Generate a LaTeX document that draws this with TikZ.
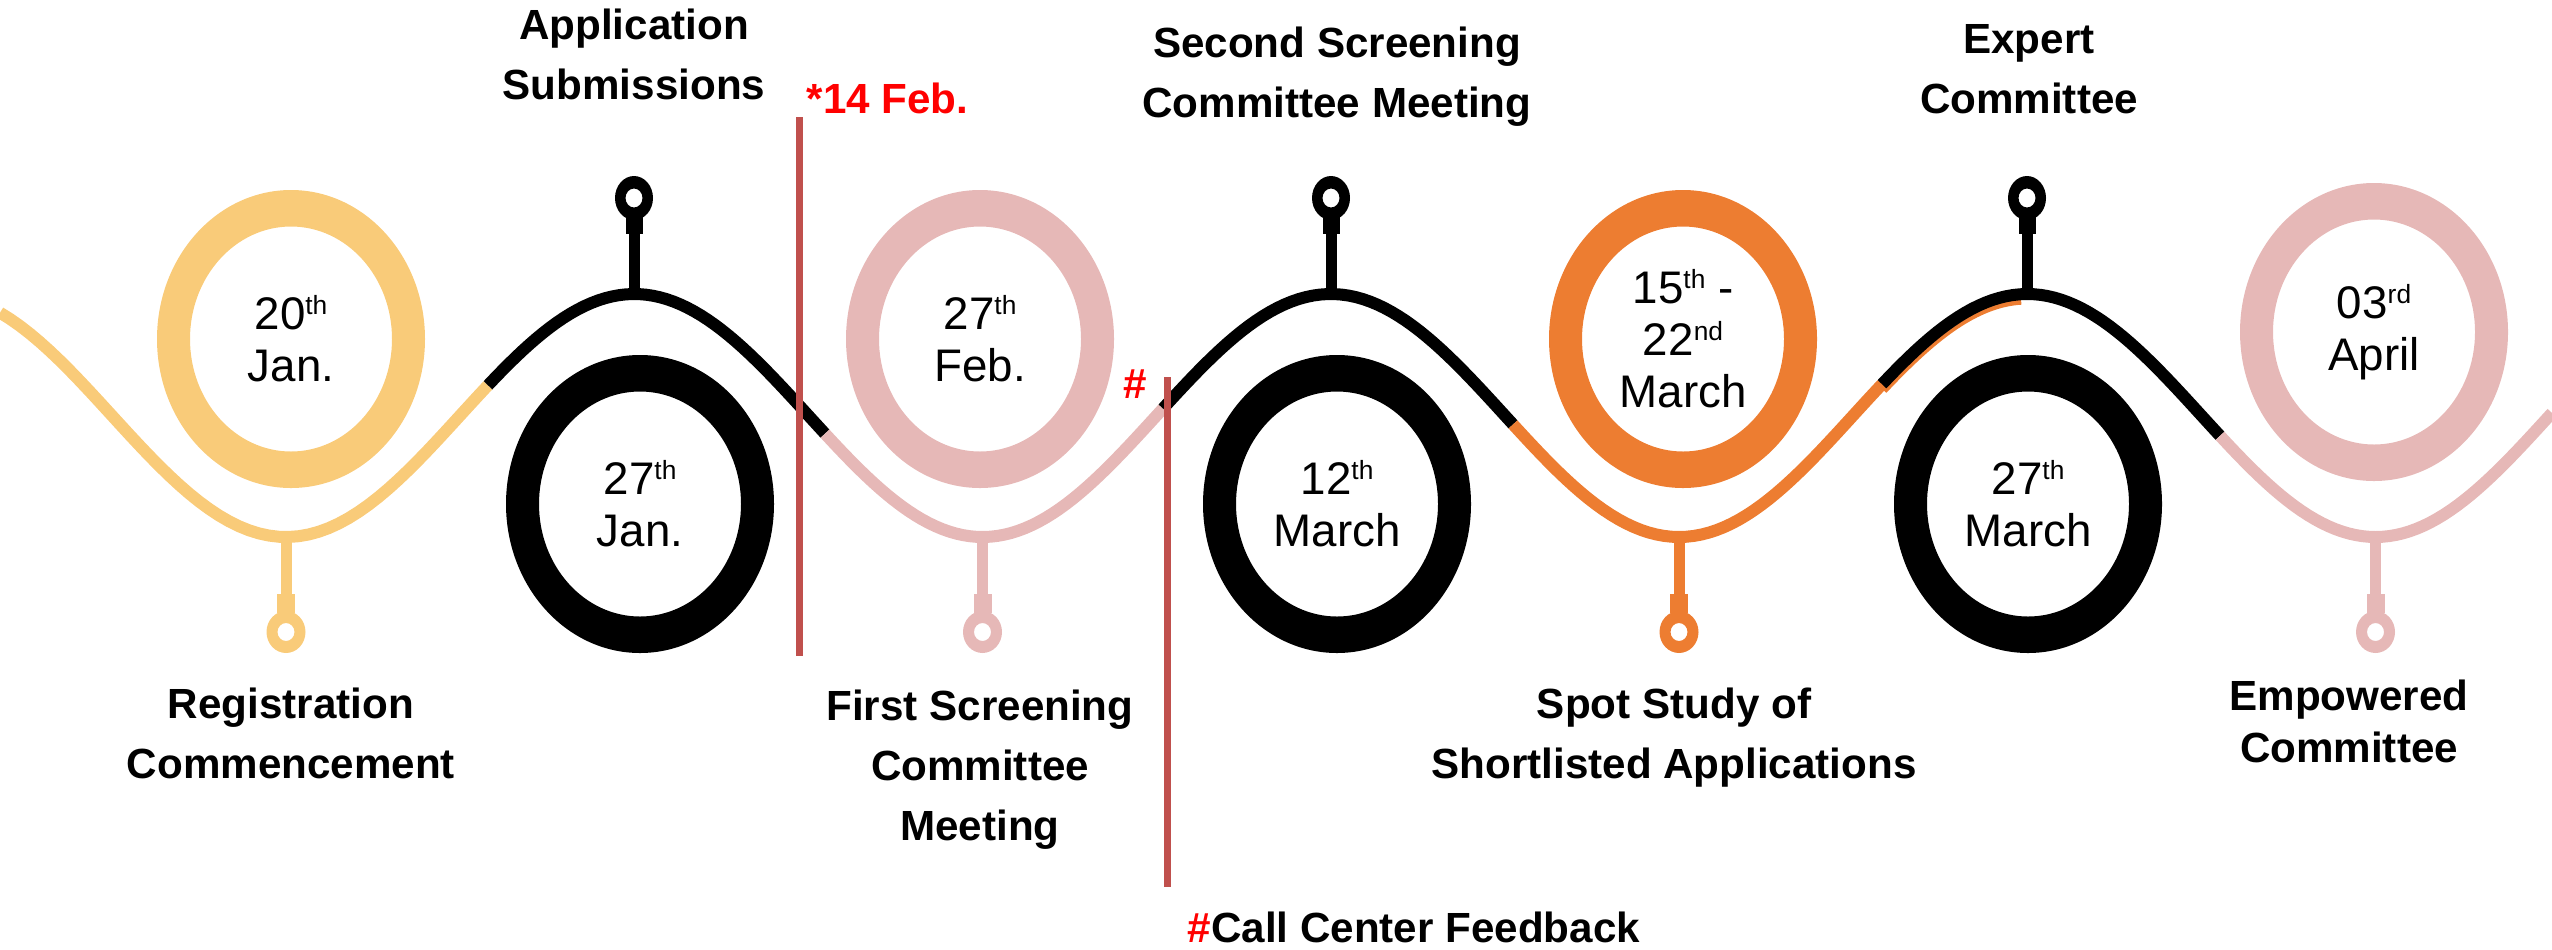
\documentclass[tikz,border=0pt]{standalone}
\usepackage{fontspec}
\setmainfont{Liberation Sans}
\usepackage{xcolor}
\usetikzlibrary{positioning}
\definecolor{tlyellow}{RGB}{249,203,121}
\definecolor{tlpink}{RGB}{230,184,183}
\definecolor{tlorange}{RGB}{237,125,49}
\definecolor{tlred}{RGB}{192,80,77}
\definecolor{tlhash}{RGB}{255,0,0}
\newcommand{\sups}[1]{\raisebox{4.3pt}{\fontsize{7.5pt}{7.5pt}\selectfont #1}}

\begin{document}
\begin{tikzpicture}[
  x=1cm, y=-1cm,
  declare function={wy(\t)=4.155+1.215*cos(360*(\t-2.86)/6.965);},
  wave/.style={line width=0.12cm},
  datetext/.style={align=center, font=\fontsize{13pt}{14.8pt}\selectfont, inner sep=0pt},
  stagetext/.style={align=center, font=\bfseries\fontsize{12pt}{17pt}\selectfont, inner sep=0pt, anchor=base},
  rednote/.style={font=\bfseries\fontsize{12pt}{17pt}\selectfont, inner sep=0pt, anchor=base west},
  cutline/.style={line width=0.07cm, tlred}
]
\useasboundingbox (0,0) rectangle (25.52,9.49);

% wavy timeline (one piece per stage)
\draw[wave, tlorange, yshift=-0.045cm] plot[domain=18.82:20.21, samples=40] (\x,{wy(\x)});
\foreach \a/\b/\col in {0/4.88/tlyellow, 4.88/8.25/black, 8.25/11.63/tlpink, 11.63/15.13/black,
                        15.13/18.82/tlorange, 18.82/22.20/black, 22.20/25.52/tlpink}
  \draw[wave, \col] plot[domain=\a:\b, samples=50] (\x,{wy(\x)});

% pendants on the peaks (top) and troughs (bottom)
\foreach \px in {6.34,13.31,20.27} {
  \fill (\px-0.055,2.33) rectangle (\px+0.055,2.94);
  \fill (\px-0.085,2.13) rectangle (\px+0.085,2.34);
  \fill[even odd rule] (\px,1.98) ellipse (0.19 and 0.22) (\px,1.98) ellipse (0.085 and 0.095);
}
\foreach \px/\col in {2.86/tlyellow, 9.825/tlpink, 16.79/tlorange, 23.755/tlpink} {
  \fill[\col] (\px-0.055,5.37) rectangle (\px+0.055,5.95);
  \fill[\col] (\px-0.09,5.94) rectangle (\px+0.09,6.13);
  \fill[\col, even odd rule] (\px,6.32) ellipse (0.195 and 0.21) (\px,6.32) ellipse (0.085 and 0.09);
}

% date rings
\foreach \n/\cx/\cy/\col/\txt in {
    d1/2.91/3.39/tlyellow/{20\sups{th}\\Jan.},
    d2/6.40/5.04/black/{27\sups{th}\\Jan.},
    d3/9.80/3.39/tlpink/{27\sups{th}\\Feb.},
    d4/13.37/5.04/black/{12\sups{th}\\March},
    d5/16.83/3.39/tlorange/{15\sups{th} -\\22\sups{nd}\\March},
    d6/20.28/5.04/black/{27\sups{th}\\March},
    d7/23.74/3.32/tlpink/{03\sups{rd}\\April}} {
  \fill[\col, even odd rule] (\cx,\cy) ellipse (1.34 and 1.49) (\cx,\cy) ellipse (1.01 and 1.125);
  \node[datetext] (\n) at (\cx,\cy) {\txt};
}

% stage names (placed at the baseline of their last line)
\node[stagetext] (app) at (6.34,0.99) {Application\\Submissions};
\node[stagetext] (scr2) at (13.37,1.17) {Second Screening\\Committee Meeting};
\node[stagetext] (expert) at (20.29,1.13) {Expert\\Committee};
\node[stagetext] (reg) at (2.91,7.78) {Registration\\Commencement};
\node[stagetext] (scr1) at (9.80,8.40) {First Screening\\Committee\\Meeting};
\node[stagetext] (spot) at (16.74,7.78) {Spot Study of\\Shortlisted Applications};
\node[stagetext, font=\bfseries\fontsize{12pt}{14.8pt}\selectfont] (emp) at (23.49,7.62) {Empowered\\Committee};

% red markers
\coordinate (cut1top) at (7.99,1.17);
\coordinate (cut1bot) at (7.99,6.56);
\coordinate (cut2top) at (11.67,3.77);
\coordinate (cut2bot) at (11.67,8.87);
\draw[cutline] (cut1top) -- (cut1bot);
\draw[cutline] (cut2top) -- (cut2bot);
\node[rednote, text=tlhash] (feb) at (8.06,1.13) {*14 Feb.};
\node[rednote, text=tlhash] (hash) at (11.23,3.98) {\#};
\node[rednote] (call) at (11.87,9.42) {\textcolor{tlhash}{\#}Call Center Feedback};
\end{tikzpicture}
\end{document}
